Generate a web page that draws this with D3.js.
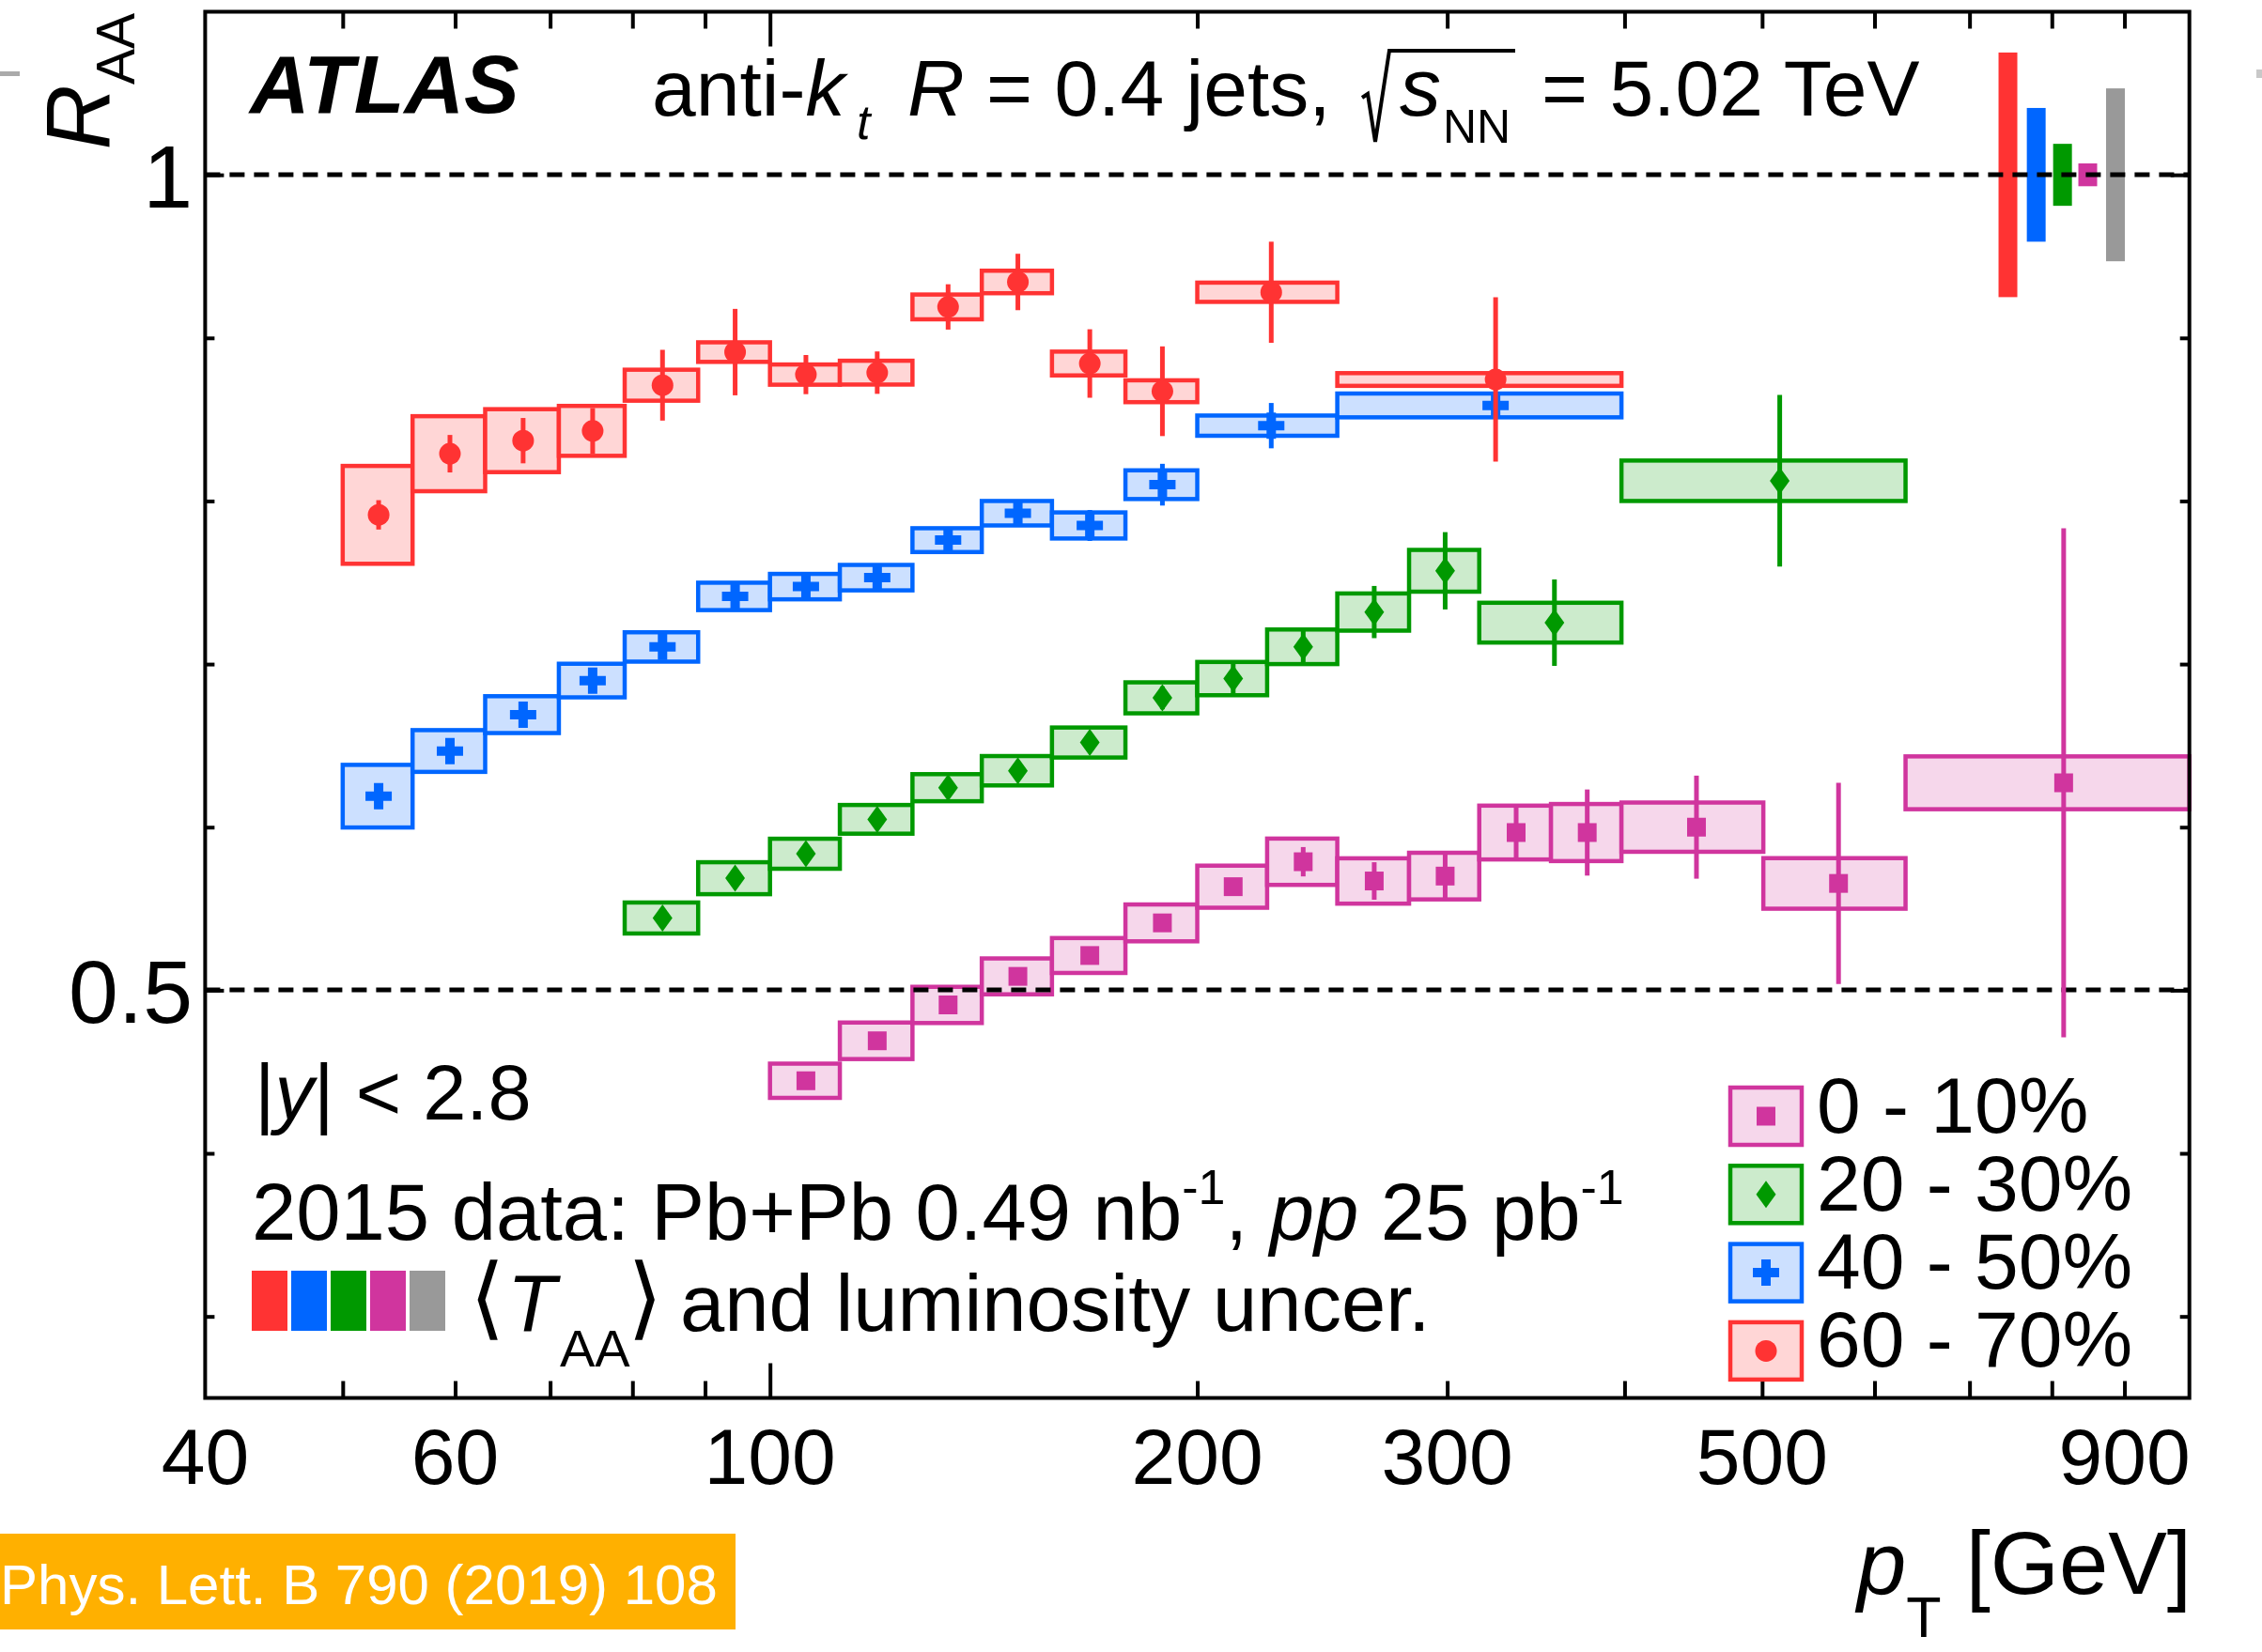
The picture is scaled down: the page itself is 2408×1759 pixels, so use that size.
<!DOCTYPE html>
<html><head><meta charset="utf-8">
<script src="https://cdn.jsdelivr.net/npm/d3@7"></script>
<style>
html,body{margin:0;padding:0;background:#fff;}
svg{display:block;}
text{font-family:"Liberation Sans",Arial,Helvetica,sans-serif;fill:#000;}
</style></head><body>
<script>
// ---------------- DATA ----------------
// 0-10 %
const ptLo_0_10 = [100,112,126,141,158,178,200,224,251,282,316,355,398,501,631];
const ptHi_0_10 = [112,126,141,158,178,200,224,251,282,316,355,398,501,631,1000];
const raa_0_10  = [0.4445,0.469,0.491,0.5085,0.5213,0.5413,0.5635,0.5788,0.567,0.570,0.5967,0.5967,0.600,0.5655,0.6272];
const stat_0_10 = [0.003,0.003,0.003,0.003,0.003,0.003,0.004,0.009,0.0115,0.0146,0.0165,0.0264,0.0316,0.0617,0.156];
const syst_0_10 = [0.0105,0.0112,0.0111,0.011,0.0107,0.0113,0.0129,0.0142,0.0139,0.0143,0.0165,0.0175,0.0151,0.0155,0.0162];
// 20-30 %
const ptLo_20_30 = [79,89,100,112,126,141,158,178,200,224,251,282,316,398];
const ptHi_20_30 = [89,100,112,126,141,158,178,200,224,251,282,316,398,631];
const raa_20_30  = [0.5443,0.5687,0.5837,0.6048,0.6242,0.6346,0.6519,0.6793,0.6911,0.7106,0.7319,0.7572,0.7254,0.8124];
const stat_20_30 = [0.004,0.004,0.004,0.004,0.004,0.004,0.004,0.007,0.009,0.0105,0.016,0.0237,0.0265,0.0526];
const syst_20_30 = [0.0095,0.0098,0.0092,0.0088,0.0083,0.009,0.0092,0.0095,0.0102,0.0106,0.0114,0.0128,0.0122,0.0124];
// 40-50 %
const ptLo_40_50 = [50,56,63,71,79,89,100,112,126,141,158,178,200,251];
const ptHi_40_50 = [56,63,71,79,89,100,112,126,141,158,178,200,251,398];
const raa_40_50  = [0.619,0.6467,0.669,0.6899,0.7105,0.7415,0.7475,0.753,0.776,0.7925,0.785,0.810,0.8462,0.8586];
const stat_40_50 = [0.0077,0.007,0.006,0.006,0.006,0.006,0.006,0.006,0.006,0.006,0.0095,0.0128,0.0139,0.005];
const syst_40_50 = [0.0192,0.0128,0.0113,0.0103,0.009,0.0084,0.0078,0.0078,0.0073,0.0075,0.008,0.0088,0.0062,0.0073];
// 60-70 %
const ptLo_60_70 = [50,56,63,71,79,89,100,112,126,141,158,178,200,251];
const ptHi_60_70 = [56,63,71,79,89,100,112,126,141,158,178,200,251,398];
const raa_60_70  = [0.7915,0.829,0.837,0.843,0.871,0.8913,0.8775,0.8787,0.919,0.9343,0.8843,0.8673,0.928,0.8745];
const stat_60_70 = [0.009,0.0115,0.0139,0.014,0.0217,0.0265,0.012,0.013,0.0139,0.0173,0.021,0.0275,0.031,0.0504];
const syst_60_70 = [0.030,0.023,0.0193,0.0153,0.0095,0.006,0.0062,0.0073,0.0076,0.0069,0.0073,0.0067,0.0059,0.0039];
// global <TAA> (60-70, 40-50, 20-30, 0-10) and luminosity uncertainties
const globalUnc = [0.075,0.041,0.019,0.007,0.053];
const legendLabels = ["0 - 10%","20 - 30%","40 - 50%","60 - 70%"];
const xTickLabels = [40,60,100,200,300,500,900];
const xMinorTicks = [50,60,70,80,90,200,300,400,500,600,700,800,900];
const xMajorTicks = [100];
const yTickLabels = [0.5,1];
const yMinorTicks = [0.3,0.4,0.6,0.7,0.8,0.9];

// ---------------- LAYOUT ----------------
const W=2408,H=1759;
const L=218.4,R=2330.7,T=12.5,B=1488.5;
const colors = {m:"#D0359E",g:"#009900",b:"#0066FF",r:"#FF3333",gray:"#999999"};
const fills  = {m:"#F6D7EB",g:"#CCEBCC",b:"#CCE0FF",r:"#FFD6D6"};
const globalPos = [745,780,814,848,887]; // pT positions of the global-uncertainty bars

const svg = d3.select("body").append("svg").attr("width",W).attr("height",H);
svg.append("rect").attr("width",W).attr("height",H).attr("fill","#fff");

const x = d3.scaleLog().domain([40,1000]).range([L,R]);
const y = d3.scaleLinear().domain([0.25,1.1]).range([B,T]);

const series = [
  {key:"m",lo:ptLo_0_10,hi:ptHi_0_10,v:raa_0_10,st:stat_0_10,sy:syst_0_10,mk:"square"},
  {key:"g",lo:ptLo_20_30,hi:ptHi_20_30,v:raa_20_30,st:stat_20_30,sy:syst_20_30,mk:"diamond"},
  {key:"b",lo:ptLo_40_50,hi:ptHi_40_50,v:raa_40_50,st:stat_40_50,sy:syst_40_50,mk:"cross"},
  {key:"r",lo:ptLo_60_70,hi:ptHi_60_70,v:raa_60_70,st:stat_60_70,sy:syst_60_70,mk:"circle"}
];
const markerPaths = {
  square:"M-10,-10h20v20h-20z",
  diamond:"M0,-14.5L10.5,0L0,14.5L-10.5,0Z",
  cross:"M-5,-14h10v9h9v10h-9v9h-10v-9h-9v-10h9z"
};
function drawMarker(g, type, cx, cy, col){
  if(type==="circle") g.append("ellipse").attr("cx",cx).attr("cy",cy).attr("rx",11.5).attr("ry",11.5).attr("fill",col);
  else g.append("path").attr("d",markerPaths[type]).attr("transform",`translate(${cx},${cy})`).attr("fill",col);
}

// ---- systematic boxes ----
const gBoxes = svg.append("g");
series.forEach(s=>{
  const d = s.v.map((v,i)=>({lo:s.lo[i],hi:s.hi[i],v:v,sy:s.sy[i]}));
  gBoxes.selectAll(null).data(d).enter().append("rect")
    .attr("x",e=>x(e.lo)).attr("width",e=>x(e.hi)-x(e.lo))
    .attr("y",e=>y(e.v+e.sy)).attr("height",e=>y(e.v-e.sy)-y(e.v+e.sy))
    .attr("fill",fills[s.key]).attr("stroke",colors[s.key]).attr("stroke-width",4.5);
});

// ---- global uncertainty bars ----
const gKeys=["r","b","g","m","gray"];
svg.append("g").selectAll(null).data(globalUnc).enter().append("rect")
  .attr("x",(u,i)=>x(globalPos[i])-10).attr("width",20)
  .attr("y",u=>y(1+u)).attr("height",u=>y(1-u)-y(1+u))
  .attr("fill",(u,i)=>colors[gKeys[i]]);

// ---- dashed reference lines ----
svg.append("g").selectAll(null).data([1,0.5]).enter().append("line")
  .attr("x1",L).attr("x2",R).attr("y1",d=>Math.round(y(d))).attr("y2",d=>Math.round(y(d)))
  .attr("stroke","#000").attr("stroke-width",5).attr("stroke-dasharray","16,10");

// ---- stat bars and markers ----
const gPts = svg.append("g");
series.forEach(s=>{
  s.v.forEach((v,i)=>{
    const c=(s.lo[i]+s.hi[i])/2;
    gPts.append("line").attr("x1",x(c)).attr("x2",x(c))
      .attr("y1",y(v+s.st[i])).attr("y2",y(v-s.st[i]))
      .attr("stroke",colors[s.key]).attr("stroke-width",5);
    drawMarker(gPts,s.mk,x(c),y(v),colors[s.key]);
  });
});

// ---- axes ----
function styleAxis(g){ g.select(".domain").remove(); g.selectAll("line").attr("stroke","#000").attr("stroke-width",4); g.selectAll("text").remove(); }
svg.append("g").attr("transform",`translate(0,${B})`).call(d3.axisBottom(x).tickValues(xMinorTicks).tickSize(-18)).call(styleAxis);
svg.append("g").attr("transform",`translate(0,${B})`).call(d3.axisBottom(x).tickValues(xMajorTicks).tickSize(-37)).call(styleAxis);
svg.append("g").attr("transform",`translate(0,${T})`).call(d3.axisTop(x).tickValues(xMinorTicks).tickSize(-18)).call(styleAxis);
svg.append("g").attr("transform",`translate(0,${T})`).call(d3.axisTop(x).tickValues(xMajorTicks).tickSize(-37)).call(styleAxis);
svg.append("g").attr("transform",`translate(${L},0)`).call(d3.axisLeft(y).tickValues(yMinorTicks).tickSize(-10)).call(styleAxis);
svg.append("g").attr("transform",`translate(${L},0)`).call(d3.axisLeft(y).tickValues(yTickLabels).tickSize(-20)).call(styleAxis);
svg.append("g").attr("transform",`translate(${R},0)`).call(d3.axisRight(y).tickValues(yMinorTicks).tickSize(-10)).call(styleAxis);
svg.append("g").attr("transform",`translate(${R},0)`).call(d3.axisRight(y).tickValues(yTickLabels).tickSize(-20)).call(styleAxis);

// tick labels
svg.append("g").selectAll(null).data(xTickLabels).enter().append("text")
  .attr("x",d=>x(d)).attr("y",1580).attr("text-anchor","middle")
  .attr("font-size",84).text(d=>d);
svg.append("g").selectAll(null).data(yTickLabels).enter().append("text")
  .attr("x",205).attr("y",d=>y(d)+35).attr("text-anchor","end")
  .attr("font-size",95).text(d=>d);

// frame
svg.append("rect").attr("x",L).attr("y",T).attr("width",R-L).attr("height",B-T)
  .attr("fill","none").attr("stroke","#000").attr("stroke-width",4);

// axis titles
const yt = svg.append("text").attr("transform","translate(117,14) rotate(-90)").attr("text-anchor","end");
yt.append("tspan").attr("font-size",96).attr("font-style","italic").text("R");
yt.append("tspan").attr("font-size",57).attr("dy",26).text("AA");

const xt = svg.append("text").attr("x",2333).attr("y",1697).attr("text-anchor","end");
xt.append("tspan").attr("font-size",94).attr("font-style","italic").text("p");
xt.append("tspan").attr("font-size",61).attr("dy",46).text("T");
xt.append("tspan").attr("font-size",94).attr("dy",-46).text(" [GeV]");

// ATLAS label & header
svg.append("text").attr("x",266).attr("y",120).attr("font-size",88)
  .attr("font-weight","bold").attr("font-style","italic").text("ATLAS");
const h1 = svg.append("text").attr("x",694).attr("y",123).attr("font-size",84);
h1.append("tspan").text("anti-");
h1.append("tspan").attr("font-style","italic").text("k");
svg.append("text").attr("x",912).attr("y",148).attr("font-size",52).attr("font-style","italic").text("t");
const h2 = svg.append("text").attr("x",966).attr("y",123).attr("font-size",84);
h2.append("tspan").attr("font-style","italic").text("R");
h2.append("tspan").text(" = 0.4 jets,");
svg.append("path").attr("d","M1450,104 L1456,100 L1464,151 L1479,54 L1613,54")
  .attr("fill","none").attr("stroke","#000").attr("stroke-width",4).attr("stroke-linejoin","miter");
svg.append("text").attr("x",1490).attr("y",123).attr("font-size",88).attr("font-style","italic").text("s");
svg.append("text").attr("x",1536).attr("y",152).attr("font-size",50).text("NN");
svg.append("text").attr("x",1641).attr("y",123).attr("font-size",84).text("= 5.02 TeV");

// |y| < 2.8
const ty = svg.append("text").attr("x",271).attr("y",1192).attr("font-size",83);
ty.append("tspan").text("|");
ty.append("tspan").attr("font-style","italic").text("y");
ty.append("tspan").text("| < 2.8");

// 2015 data line
const td = svg.append("text").attr("x",268).attr("y",1320).attr("font-size",85);
td.append("tspan").text("2015 data: Pb+Pb 0.49 nb");
td.append("tspan").attr("font-size",52).attr("dy",-38).text("-1");
td.append("tspan").attr("dy",38).text(", ");
td.append("tspan").attr("font-style","italic").text("pp");
td.append("tspan").text(" 25 pb");
td.append("tspan").attr("font-size",52).attr("dy",-38).text("-1");

// TAA line
const smallKeys=["r","b","g","m","gray"];
svg.append("g").selectAll(null).data(smallKeys).enter().append("rect")
  .attr("x",(k,i)=>268+i*42).attr("y",1353).attr("width",38).attr("height",64)
  .attr("fill",k=>colors[k]);
svg.append("text").attr("x",500).attr("y",1414).attr("font-size",96)
  .style("font-family",'"DejaVu Sans"').attr("font-weight","200").text("\u27E8");
svg.append("text").attr("x",540).attr("y",1417).attr("font-size",85).attr("font-style","italic").text("T");
svg.append("text").attr("x",596).attr("y",1455).attr("font-size",56).text("AA");
svg.append("text").attr("x",668).attr("y",1414).attr("font-size",96)
  .style("font-family",'"DejaVu Sans"').attr("font-weight","200").text("\u27E9");
svg.append("text").attr("x",724).attr("y",1417).attr("font-size",85).text("and luminosity uncer.");

// legend
const legRows = series.map((s,i)=>({s:s,label:legendLabels[i]}));
const lg = svg.append("g");
legRows.forEach((r,i)=>{
  const cy = 1188.5 + i*83.3;
  lg.append("rect").attr("x",1842).attr("y",cy-30.5).attr("width",76).attr("height",61)
    .attr("fill",fills[r.s.key]).attr("stroke",colors[r.s.key]).attr("stroke-width",4.5);
  drawMarker(lg,r.s.mk,1880,cy,colors[r.s.key]);
  lg.append("text").attr("x",1934).attr("y",cy+17).attr("font-size",84).text(r.label);
});

// reference box
svg.append("rect").attr("x",0).attr("y",1633).attr("width",783).attr("height",102).attr("fill","#FFB000");
svg.append("text").attr("x",0).attr("y",1708).attr("font-size",60).style("fill","#fff").text("Phys. Lett. B 790 (2019) 108");

// cropped edge marks
svg.append("rect").attr("x",0).attr("y",76).attr("width",21).attr("height",5).attr("fill","#aaaaaa");
svg.append("rect").attr("x",2402).attr("y",74).attr("width",6).attr("height",9).attr("fill","#c8c8c8");
</script>
</body></html>
